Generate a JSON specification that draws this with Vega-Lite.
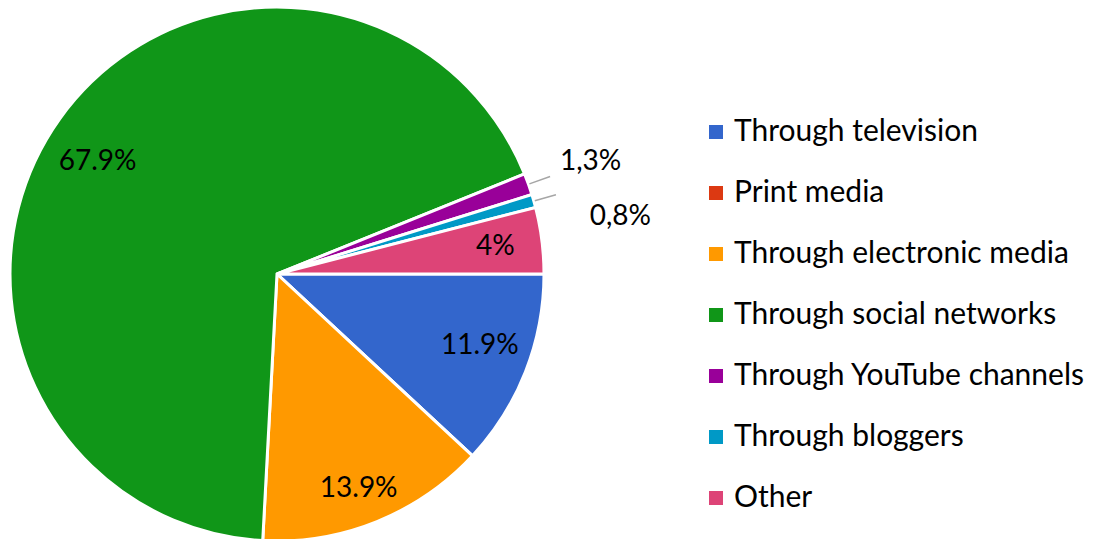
{
  "$schema": "https://vega.github.io/schema/vega-lite/v6.json",
  "width": 554,
  "height": 548,
  "padding": 0,
  "background": "white",
  "config": {"view": {"stroke": null}, "text": {"font": "Lato", "fontSize": 28, "color": "black", "align": "center", "baseline": "middle"}},
  "data": {
    "values": [
      {"idx": 1, "category": "Through television", "value": 11.9, "label": "11.9%"},
      {"idx": 2, "category": "Print media", "value": 0, "label": ""},
      {"idx": 3, "category": "Through electronic media", "value": 13.9, "label": "13.9%"},
      {"idx": 4, "category": "Through social networks", "value": 67.9, "label": "67.9%"},
      {"idx": 5, "category": "Through YouTube channels", "value": 1.3, "label": "1,3%"},
      {"idx": 6, "category": "Through bloggers", "value": 0.8, "label": "0,8%"},
      {"idx": 7, "category": "Other", "value": 4, "label": "4%"}
    ]
  },
  "encoding": {
    "theta": {"field": "value", "type": "quantitative", "stack": true, "scale": {"range": [1.5707963, 7.8539816]}},
    "order": {"field": "idx", "type": "quantitative"}
  },
  "layer": [
    {
      "mark": {"type": "arc", "outerRadius": 267, "stroke": "white", "strokeWidth": 3},
      "encoding": {
        "color": {
          "field": "category",
          "type": "nominal",
          "sort": ["Through television", "Print media", "Through electronic media", "Through social networks", "Through YouTube channels", "Through bloggers", "Other"],
          "scale": {
            "domain": ["Through television", "Print media", "Through electronic media", "Through social networks", "Through YouTube channels", "Through bloggers", "Other"],
            "range": ["#3366CC", "#DC3912", "#FF9900", "#109618", "#990099", "#0099C6", "#DD4477"]
          },
          "legend": {
            "title": null,
            "orient": "none",
            "legendX": 701,
            "legendY": 117,
            "padding": 0,
            "symbolType": "square",
            "symbolSize": 196,
            "symbolStrokeWidth": 0,
            "labelFont": "Lato",
            "labelFontSize": 30,
            "labelColor": "black",
            "labelOffset": 3,
            "labelLimit": 400,
            "rowPadding": 31
          }
        }
      }
    },
    {
      "transform": [
        {"stack": "value", "sort": [{"field": "idx"}], "groupby": [], "as": ["v0", "v1"]},
        {"filter": "datum.idx === 5 || datum.idx === 6"}
      ],
      "mark": {"type": "arc", "innerRadius": 268, "outerRadius": 290, "padAngle": 0.5, "fill": null, "stroke": "#a6a6a6", "strokeWidth": 1.5},
      "encoding": {
        "theta": {"field": "v0", "type": "quantitative"},
        "theta2": {"field": "v1"},
        "order": null
      }
    },
    {
      "mark": {"type": "text", "radius": 218, "dx": -2, "dy": 15},
      "encoding": {
        "detail": {"field": "category", "type": "nominal"},
        "text": {"condition": {"test": "datum.idx === 4", "field": "label", "type": "nominal"}, "value": ""}
      }
    },
    {
      "mark": {"type": "text", "radius": 218, "dy": -8},
      "encoding": {
        "detail": {"field": "category", "type": "nominal"},
        "text": {"condition": {"test": "datum.idx === 1", "field": "label", "type": "nominal"}, "value": ""}
      }
    },
    {
      "mark": {"type": "text", "radius": 218, "dy": 13},
      "encoding": {
        "detail": {"field": "category", "type": "nominal"},
        "text": {"condition": {"test": "datum.idx === 3", "field": "label", "type": "nominal"}, "value": ""}
      }
    },
    {
      "mark": {"type": "text", "radius": 218, "dx": 2},
      "encoding": {
        "detail": {"field": "category", "type": "nominal"},
        "text": {"condition": {"test": "datum.idx === 7", "field": "label", "type": "nominal"}, "value": ""}
      }
    },
    {
      "mark": {"type": "text", "radius": 333},
      "encoding": {
        "detail": {"field": "category", "type": "nominal"},
        "text": {"condition": {"test": "datum.idx === 5", "field": "label", "type": "nominal"}, "value": ""}
      }
    },
    {
      "mark": {"type": "text", "radius": 333, "dx": 23, "dy": 34},
      "encoding": {
        "detail": {"field": "category", "type": "nominal"},
        "text": {"condition": {"test": "datum.idx === 6", "field": "label", "type": "nominal"}, "value": ""}
      }
    }
  ]
}
